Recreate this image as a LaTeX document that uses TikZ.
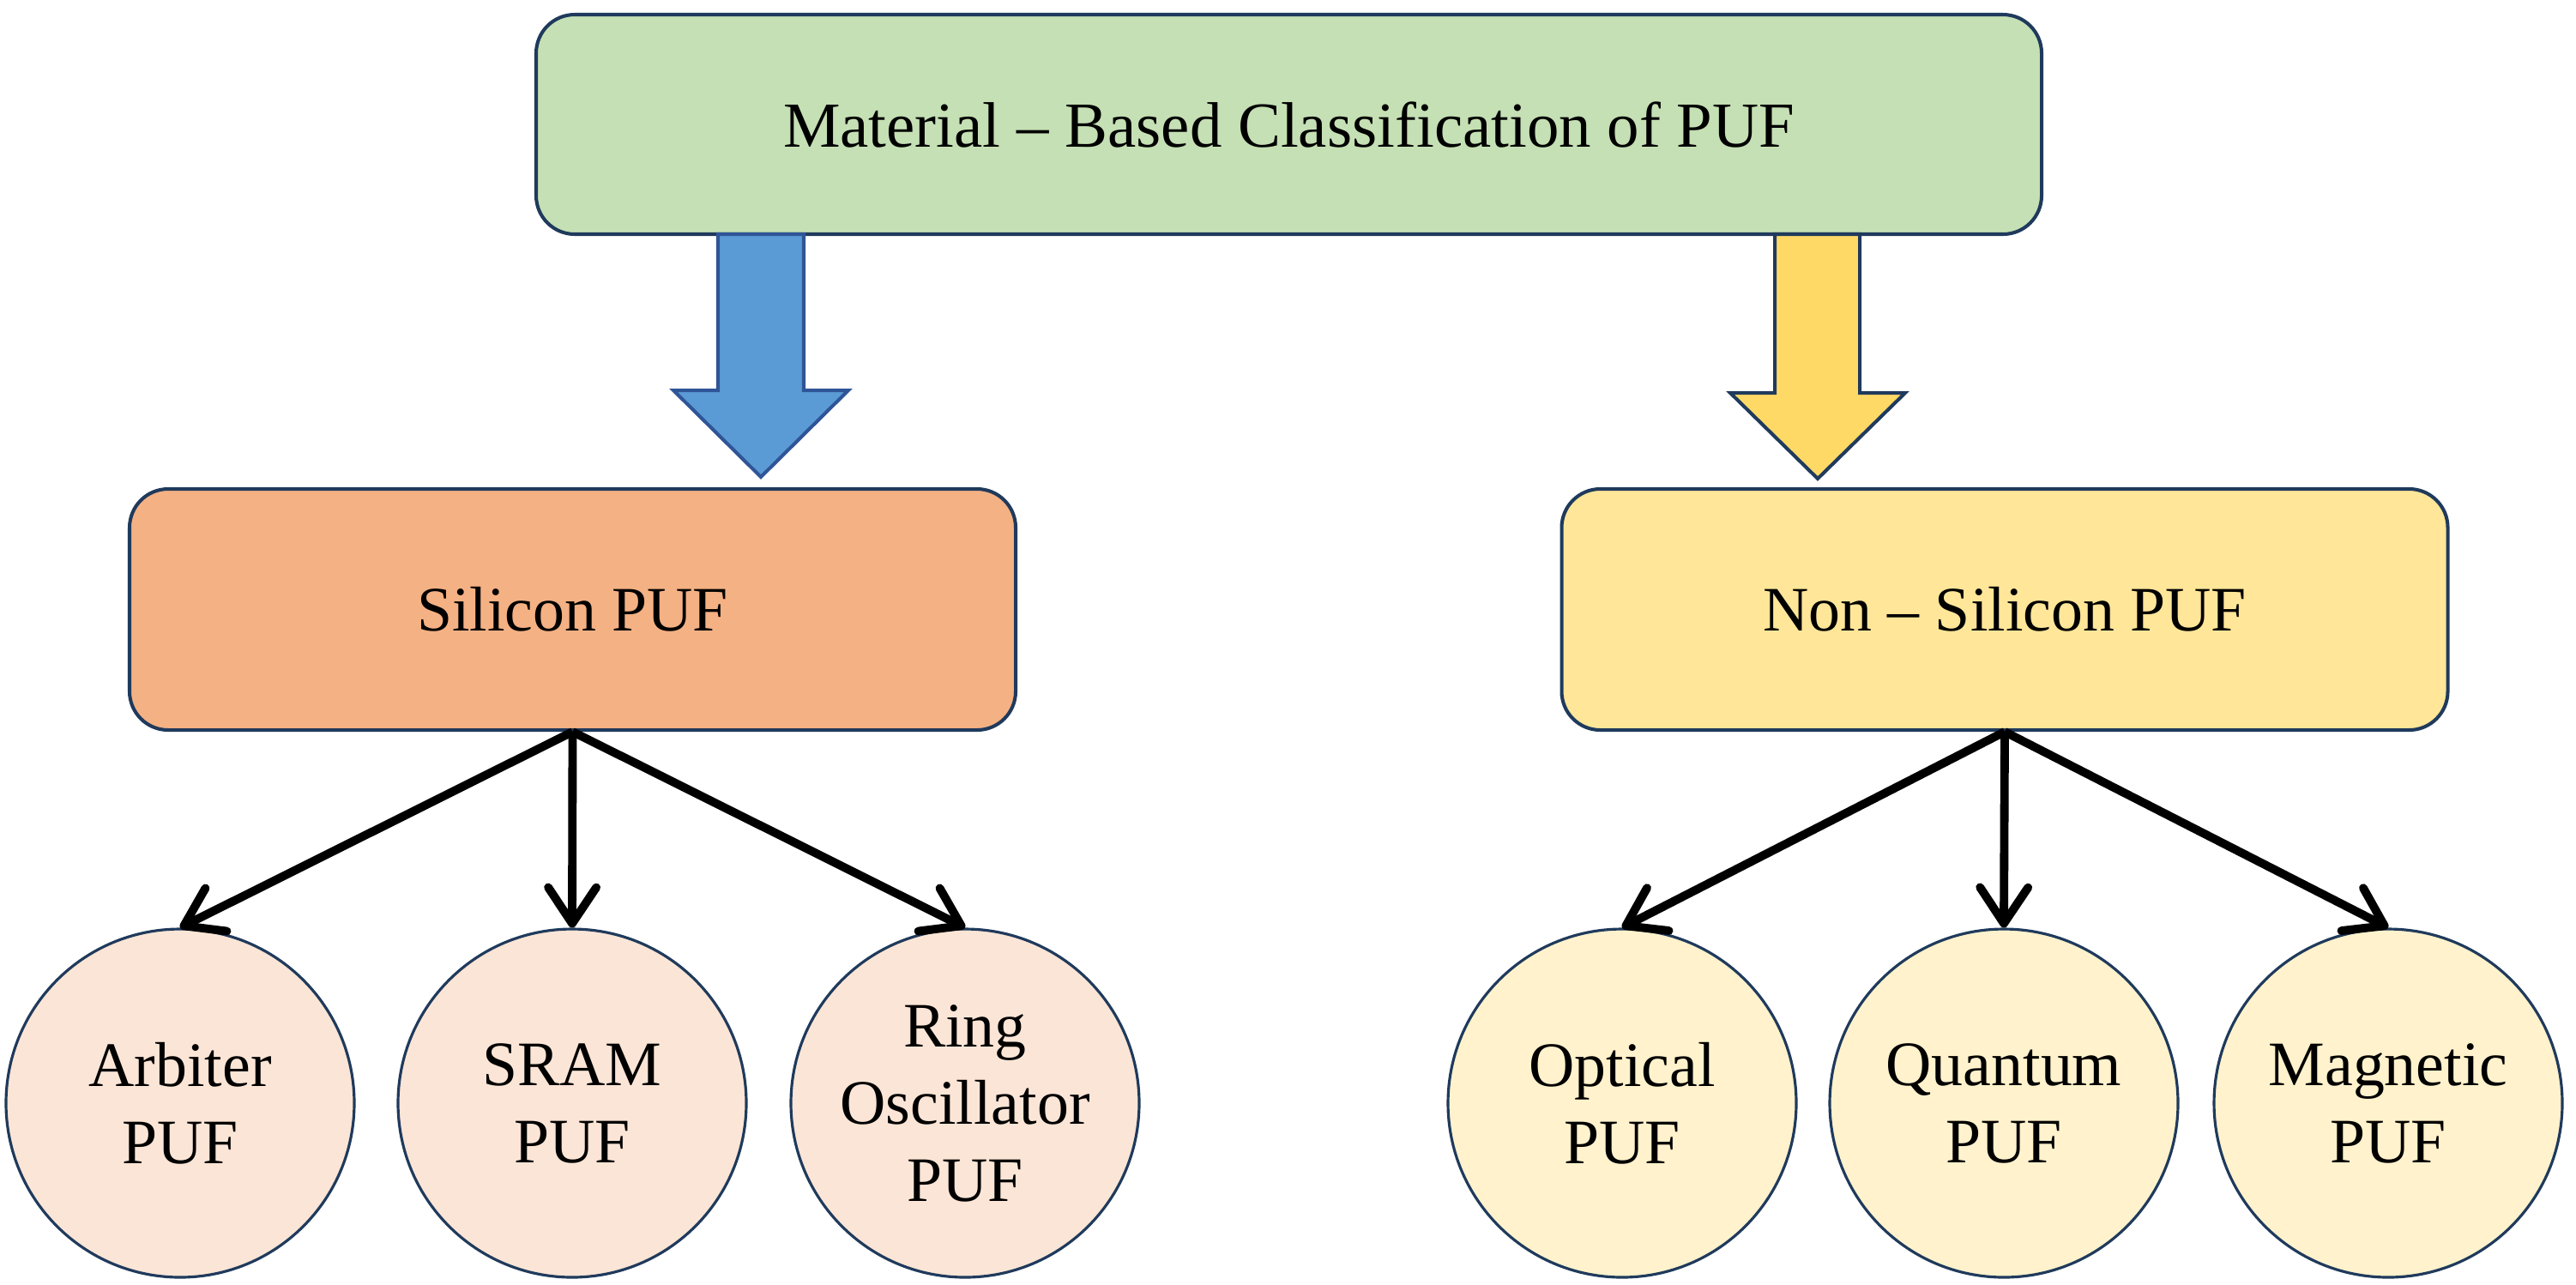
\documentclass[tikz,border=0pt]{standalone}
\usepackage{fontspec}
\setmainfont{Liberation Serif}
\usetikzlibrary{arrows.meta}
\definecolor{bordc}{HTML}{1F3A5C}
\definecolor{topfill}{HTML}{C5E0B4}
\definecolor{silfill}{HTML}{F4B183}
\definecolor{nonfill}{HTML}{FFE699}
\definecolor{silc}{HTML}{FBE5D6}
\definecolor{nonc}{HTML}{FFF2CC}
\definecolor{bluef}{HTML}{5B9BD5}
\definecolor{blued}{HTML}{2F5597}
\definecolor{yelf}{HTML}{FFD966}
\begin{document}
\begin{tikzpicture}[
  box/.style={draw=bordc, line width=1.15pt, rounded corners=0.45cm, align=center, inner sep=0pt},
  leaf/.style={circle, draw=bordc, line width=0.9pt, minimum size=4.06cm, inner sep=0pt, align=center,
    font=\fontsize{21pt}{25.6pt}\selectfont},
  link/.style={line width=2.8pt, -{Straight Barb[length=4.2mm, width=5.6mm, round]}},
  block/.style={line width=1.15pt, line join=miter}
]
\useasboundingbox (0,0) rectangle (30.03,-14.97);

\node[box, fill=topfill, minimum width=17.55cm, minimum height=2.56cm,
  font=\fontsize{21.3pt}{26pt}\selectfont] (top) at (15.025,-1.45) {\raisebox{-0.6mm}{Material -- Based Classification of PUF}};

\node[box, fill=silfill, minimum width=10.33cm, minimum height=2.81cm,
  font=\fontsize{21pt}{25pt}\selectfont] (sil) at (6.675,-7.105) {Silicon PUF};
\node[box, fill=nonfill, minimum width=10.33cm, minimum height=2.81cm,
  font=\fontsize{21pt}{25pt}\selectfont] (non) at (23.37,-7.105) {Non -- Silicon PUF};

% block arrows
\draw[block, fill=bluef, draw=blued]
  (8.37,-2.73) -- (9.37,-2.73) -- (9.37,-4.55) -- (9.89,-4.55) -- (8.87,-5.56)
  -- (7.85,-4.55) -- (8.37,-4.55) -- cycle;
\draw[block, fill=yelf, draw=bordc]
  (20.69,-2.73) -- (21.68,-2.73) -- (21.68,-4.58) -- (22.21,-4.58) -- (21.19,-5.58)
  -- (20.17,-4.58) -- (20.69,-4.58) -- cycle;

\node[leaf, fill=silc] (arb) at (2.10,-12.86) {Arbiter\\PUF};
\node[leaf, fill=silc] (sram) at (6.67,-12.86) {SRAM\\PUF};
\node[leaf, fill=silc] (ring) at (11.25,-12.86) {Ring\\Oscillator\\PUF};
\node[leaf, fill=nonc] (opt) at (18.91,-12.86) {Optical\\PUF};
\node[leaf, fill=nonc] (qua) at (23.36,-12.86) {Quantum\\PUF};
\node[leaf, fill=nonc] (mag) at (27.84,-12.86) {Magnetic\\PUF};

\draw[link] (sil.south) -- (arb.north);
\draw[link] (sil.south) -- (sram.north);
\draw[link] (sil.south) -- (ring.north);
\draw[link] (non.south) -- (opt.north);
\draw[link] (non.south) -- (qua.north);
\draw[link] (non.south) -- (mag.north);
\end{tikzpicture}
\end{document}
